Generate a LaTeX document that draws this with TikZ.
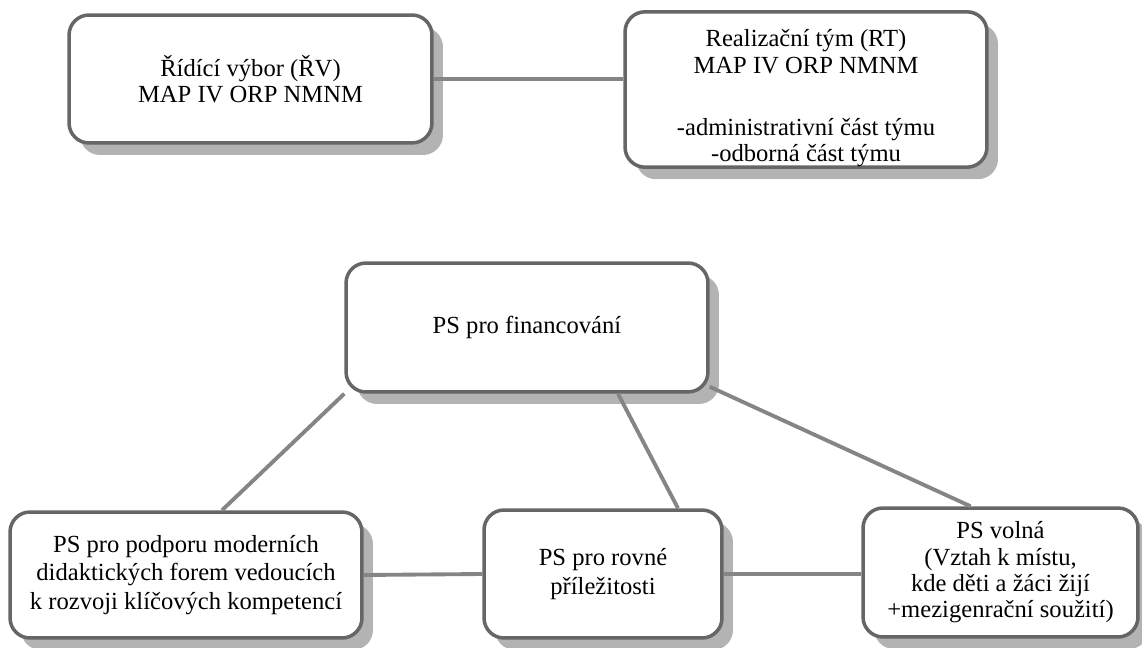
\documentclass[tikz,border=0pt]{standalone}
\usepackage{fontspec}
\setmainfont{Liberation Serif}
\usepackage{xcolor}
\usepackage{tikz}
\usetikzlibrary{shadows}
\definecolor{boxgray}{HTML}{666666}
\definecolor{shadegray}{HTML}{B3B3B3}
\definecolor{linkgray}{HTML}{858585}
\newcommand\boxfont{\fontsize{14}{15}\selectfont}
\newcommand\wideboxfont{\fontsize{14}{16.2}\selectfont}
\tikzstyle{orgbox}=[draw=boxgray,line width=2pt,rounded corners=.4cm,fill=white,align=center,inner sep=0pt,font=\boxfont,
  drop shadow={shadow xshift=.22cm,shadow yshift=-.24cm,fill=shadegray,opacity=1}]
\tikzstyle{widebox}=[orgbox,font=\wideboxfont]
\tikzstyle{link}=[draw=linkgray,line width=2.2pt]

\begin{document}
\begin{tikzpicture}[x=.02cm,y=-.02cm]
	\useasboundingbox (0,0) rectangle (1142,648);
	\node[orgbox,minimum width=7.26cm,minimum height=2.56cm] (rv) at (250.5,79) {Řídící výbor (ŘV)\\MAP IV ORP NMNM};
	\node[orgbox,minimum width=7.24cm,minimum height=3.1cm] (rt) at (806,89.5) {\rule{0pt}{.7cm}Realizační tým (RT)\\MAP IV ORP NMNM\\[.72cm]-administrativní část týmu\\-odborná část týmu};
	\node[orgbox,minimum width=7.24cm,minimum height=2.58cm] (fin) at (527,327.5) {PS pro financování};
	\node[widebox,minimum width=7.04cm,minimum height=2.52cm] (modern) at (186,575) {PS pro podporu moderních\\didaktických forem vedoucích\\k rozvoji klíčových kompetencí};
	\node[widebox,minimum width=4.76cm,minimum height=2.56cm] (rovne) at (603,574) {PS pro rovné\\příležitosti};
	\node[orgbox,minimum width=5.5cm,minimum height=2.58cm] (volna) at (1000.5,572.5) {PS volná\\(Vztah k místu,\\kde děti a žáci žijí\\+mezigenrační soužití)};
	\draw[link] (rv.east) -- (rv.east -| rt.west);
	\draw[link] (fin.south west) -- ([xshift=.72cm]modern.north);
	\draw[link] ([xshift=1.82cm]fin.south) -- ([xshift=1.5cm]rovne.north);
	\draw[link] ([yshift=.14cm]fin.south east) -- ([xshift=-.6cm]volna.north);
	\draw[link] (modern.east) -- (rovne.west);
	\draw[link] (rovne.east) -- (rovne.east -| volna.west);
\end{tikzpicture}
\end{document}
